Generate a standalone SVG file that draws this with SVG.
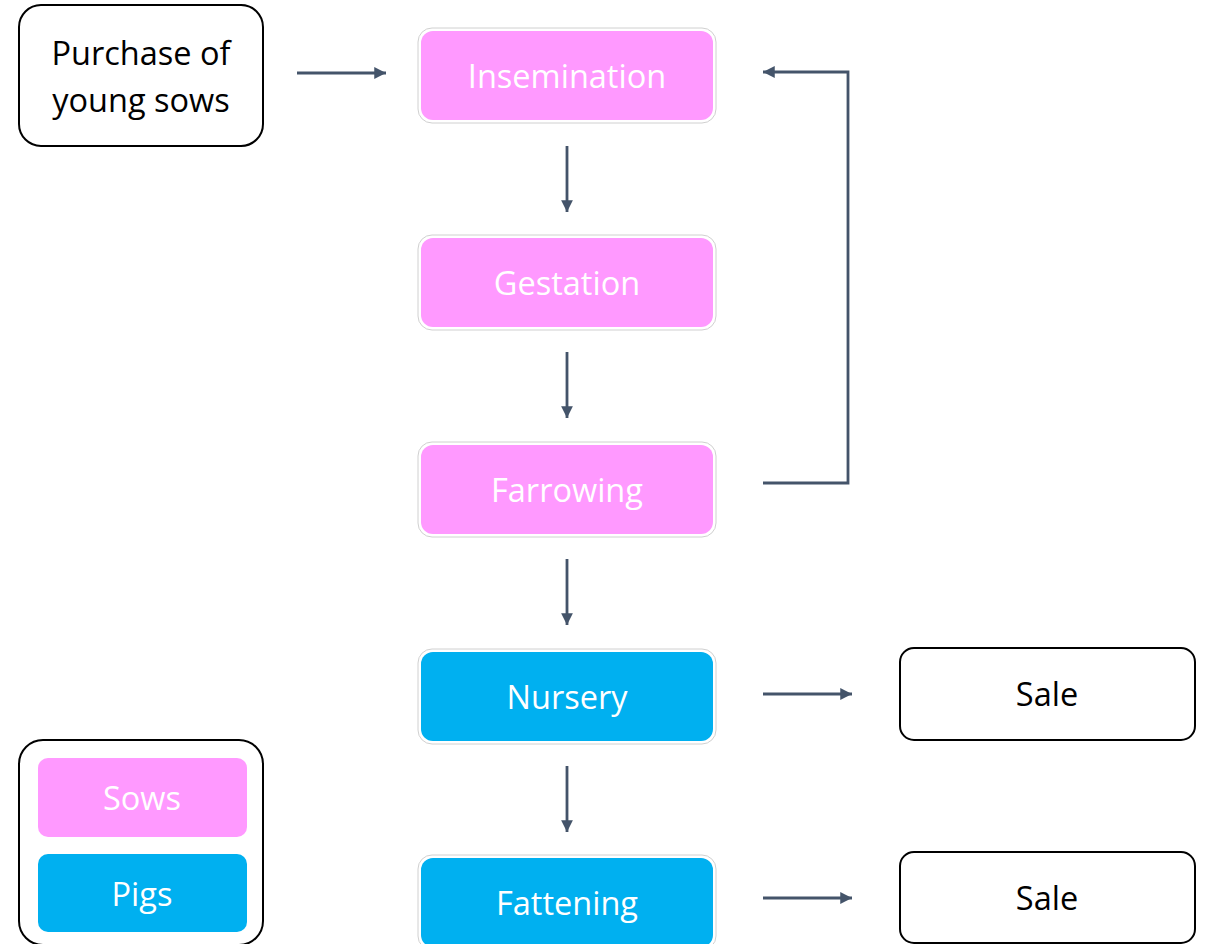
<svg xmlns="http://www.w3.org/2000/svg" width="1205" height="944" viewBox="0 0 1205 944">
<defs>
<style>
.t{font-family:"Open Sans","Liberation Sans",sans-serif;font-size:32.5px;text-anchor:middle;dominant-baseline:central}
.w{fill:#ffffff}
.k{fill:#000000}
.outline{fill:#ffffff;stroke:#000000;stroke-width:2}
.halo{fill:#ffffff;stroke:#d0d0d0;stroke-width:1}
.sow{fill:#FF99FF}
.pig{fill:#00B0F0}
.c{fill:none;stroke:#44546A;stroke-width:2.8}
</style>
<marker id="ah" viewBox="0 0 10 10" refX="10" refY="5" markerWidth="4.6" markerHeight="4.2" markerUnits="strokeWidth" orient="auto">
<path d="M0,0 L10,5 L0,10 z" fill="#44546A"/>
</marker>
</defs>
<rect width="1205" height="944" fill="#ffffff"/>

<g id="purchase">
<rect class="outline" x="19" y="5" width="244" height="141" rx="22"/>
<text class="t k" x="141" y="52">Purchase of</text>
<text class="t k" x="141" y="99">young sows</text>
</g>

<g id="insemination">
<rect class="halo" x="418" y="28" width="298" height="95" rx="14"/>
<rect class="sow" x="421" y="31" width="292" height="89" rx="12"/>
<text class="t w" x="567" y="75">Insemination</text>
</g>

<g id="gestation">
<rect class="halo" x="418" y="235" width="298" height="95" rx="14"/>
<rect class="sow" x="421" y="238" width="292" height="89" rx="12"/>
<text class="t w" x="567" y="282">Gestation</text>
</g>

<g id="farrowing">
<rect class="halo" x="418" y="442" width="298" height="95" rx="14"/>
<rect class="sow" x="421" y="445" width="292" height="89" rx="12"/>
<text class="t w" x="567" y="489">Farrowing</text>
</g>

<g id="nursery">
<rect class="halo" x="418" y="649" width="298" height="95" rx="14"/>
<rect class="pig" x="421" y="652" width="292" height="89" rx="12"/>
<text class="t w" x="567" y="696">Nursery</text>
</g>

<g id="fattening">
<rect class="halo" x="418" y="855" width="298" height="95" rx="14"/>
<rect class="pig" x="421" y="858" width="292" height="89" rx="12"/>
<text class="t w" x="567" y="902">Fattening</text>
</g>

<g id="sale1">
<rect class="outline" x="900" y="648" width="295" height="92" rx="14"/>
<text class="t k" x="1047" y="693">Sale</text>
</g>

<g id="sale2">
<rect class="outline" x="900" y="852" width="295" height="91" rx="14"/>
<text class="t k" x="1047" y="897">Sale</text>
</g>

<g id="legend">
<rect class="outline" x="19" y="740" width="244" height="205" rx="24"/>
<rect class="sow" x="38" y="758" width="209" height="79" rx="10"/>
<text class="t w" x="142" y="797">Sows</text>
<rect class="pig" x="38" y="854" width="209" height="78" rx="10"/>
<text class="t w" x="142" y="893">Pigs</text>
</g>

<g id="connectors">
<line class="c" x1="297" y1="73" x2="386" y2="73" marker-end="url(#ah)"/>
<line class="c" x1="567" y1="146" x2="567" y2="212" marker-end="url(#ah)"/>
<line class="c" x1="567" y1="352" x2="567" y2="418" marker-end="url(#ah)"/>
<line class="c" x1="567" y1="559" x2="567" y2="625" marker-end="url(#ah)"/>
<line class="c" x1="567" y1="766" x2="567" y2="832" marker-end="url(#ah)"/>
<polyline class="c" points="763,483 848,483 848,72 763,72" marker-end="url(#ah)"/>
<line class="c" x1="763" y1="694" x2="852" y2="694" marker-end="url(#ah)"/>
<line class="c" x1="763" y1="898" x2="852" y2="898" marker-end="url(#ah)"/>
</g>
</svg>
